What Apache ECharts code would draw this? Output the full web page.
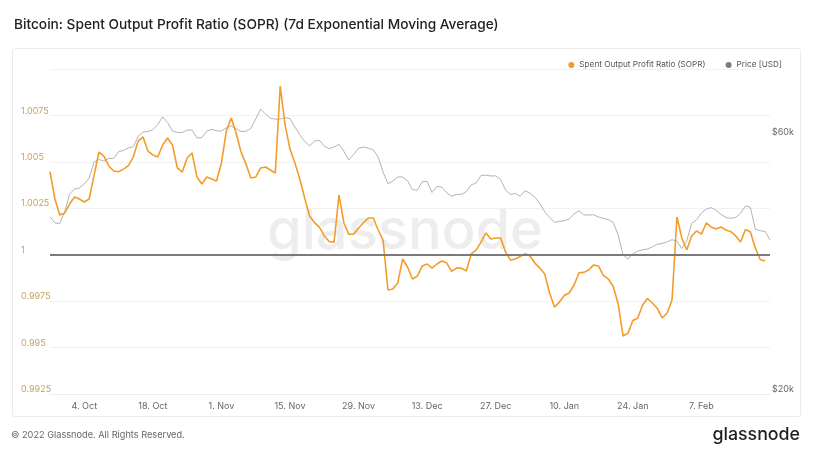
<!DOCTYPE html>
<html>
<head>
<meta charset="utf-8">
<script src="https://cdn.jsdelivr.net/npm/echarts@6/dist/echarts.min.js"></script>
<style>
html,body{margin:0;padding:0;background:#fff;}
#chart{width:815px;height:454px;}
</style>
</head>
<body>
<div id="chart"></div>
<script>
// ---- data ----
const startDate = '2021-09-27';
const dayCount = 148;
const tickDates = ['2021-10-04','2021-10-18','2021-11-01','2021-11-15','2021-11-29','2021-12-13','2021-12-27','2022-01-10','2022-01-24','2022-02-07'];
const tickLabels = ['4. Oct','18. Oct','1. Nov','15. Nov','29. Nov','13. Dec','27. Dec','10. Jan','24. Jan','7. Feb'];
const soprTicks = [0.9925, 0.995, 0.9975, 1, 1.0025, 1.005, 1.0075, 1.01];
const priceTicks = [20000, 60000];

const sopr = [
1.00447,1.00300,1.00214,1.00225,1.00273,1.00311,1.00300,1.00284,1.00300,1.00429,
1.00553,1.00531,1.00478,1.00451,1.00447,1.00461,1.00480,1.00526,1.00612,1.00634,
1.00558,1.00537,1.00526,1.00591,1.00628,1.00591,1.00467,1.00445,1.00521,1.00548,
1.00418,1.00381,1.00418,1.00408,1.00397,1.00494,1.00666,1.00736,1.00655,1.00553,
1.00488,1.00413,1.00418,1.00467,1.00472,1.00456,1.00440,1.00908,1.00698,1.00569,
1.00494,1.00408,1.00305,1.00208,1.00173,1.00149,1.00101,1.00071,1.00067,1.00321,
1.00171,1.00111,1.00110,1.00144,1.00172,1.00198,1.00198,1.00133,1.00079,0.99810,
0.99815,0.99848,0.99977,0.99934,0.99869,0.99885,0.99939,0.99950,0.99928,0.99950,
0.99966,0.99955,0.99910,0.99928,0.99928,0.99912,1.00004,1.00025,1.00068,1.00117,
1.00085,1.00090,1.00090,1.00015,0.99971,0.99977,0.99990,1.00006,0.99993,0.99955,
0.99928,0.99896,0.99794,0.99718,0.99745,0.99780,0.99794,0.99837,0.99903,0.99905,
0.99918,0.99945,0.99939,0.99888,0.99869,0.99829,0.99735,0.99562,0.99578,0.99646,
0.99659,0.99729,0.99764,0.99740,0.99710,0.99659,0.99686,0.99756,1.00203,1.00090,
1.00025,1.00101,1.00128,1.00111,1.00171,1.00149,1.00138,1.00149,1.00133,1.00124,
1.00101,1.00068,1.00136,1.00122,1.00036,0.99974,0.99966,null
];

const price = [
42600,41480,41390,43470,46940,47950,48150,48990,50250,53800,
54380,54030,54610,54650,56270,56510,57110,57410,59990,61150,
61280,61750,63140,65240,63680,61410,61020,61020,61670,61670,
59600,59730,61360,61880,61460,61410,62260,62740,61990,61280,
61300,62100,64630,67390,66030,64850,64580,64630,65020,64720,
62470,60450,58750,57600,58850,59020,57550,56920,57380,58000,
56310,54260,55550,57040,57360,57070,56680,54960,51550,49030,
49620,50470,50470,49660,47810,47690,49490,49530,47240,48510,
48300,47160,46500,46880,46860,47420,48800,49190,50810,50850,
50690,50710,49950,47750,46860,47040,46500,47590,47100,46320,
45070,43510,42510,41580,41760,41890,42170,43140,43710,42920,
42930,42970,42550,42300,42080,41550,39410,36230,35540,36370,
36790,37000,37120,37470,37890,38020,38270,38640,38360,37190,
38410,41420,42050,43290,44030,44290,43790,43010,42460,42320,
42480,43230,44640,44350,40360,40140,40000,38580
];

// ---- categories (daily dates) ----
const dates = [];
{
  const t0 = Date.parse(startDate + 'T00:00:00Z');
  for (let i = 0; i < dayCount; i++) {
    dates.push(new Date(t0 + i * 86400000).toISOString().slice(0, 10));
  }
}

const chart = echarts.init(document.getElementById('chart'), null, {renderer: 'canvas'});
const FONT = 'Inter, "Noto Sans", sans-serif';

chart.setOption({
  backgroundColor: '#ffffff',
  animation: false,
  textStyle: {fontFamily: FONT},
  title: {
    text: 'Bitcoin: Spent Output Profit Ratio (SOPR) (7d Exponential Moving Average)',
    left: 9, top: 13,
    textStyle: {fontFamily: FONT, fontSize: 13.7, fontWeight: 500, color: '#222'}
  },
  legend: {
    right: 28, top: 56,
    icon: 'circle', itemWidth: 6, itemHeight: 6, itemGap: 20,
    textStyle: {fontFamily: FONT, fontSize: 8.2, color: '#555'},
    data: ['Spent Output Profit Ratio (SOPR)', 'Price [USD]']
  },
  graphic: [
    {type: 'rect', left: 12, top: 48, z: -10, silent: true,
     shape: {width: 788, height: 368, r: 2},
     style: {fill: '#fff', stroke: '#ececec', lineWidth: 1}},
    {type: 'text', x: 405, y: 232, z: -5, silent: true,
     style: {text: 'glassnode', fill: '#ededed', font: '500 56px Inter, "Noto Sans", sans-serif',
             align: 'center', verticalAlign: 'middle'}},
    {type: 'text', left: 11, top: 431, silent: true,
     style: {text: '\u00a9 2022 Glassnode. All Rights Reserved.', fill: '#666',
             font: '9.2px Inter, "Noto Sans", sans-serif'}},
    {type: 'text', right: 15, top: 426, silent: true,
     style: {text: 'glassnode', fill: '#1f1f1f',
             font: '500 17.8px Inter, "Noto Sans", sans-serif'}}
  ],
  grid: {left: 50, right: 45, top: 69, bottom: 60, containLabel: false},
  xAxis: {
    type: 'category',
    data: dates,
    boundaryGap: false,
    axisLine: {show: true, lineStyle: {color: '#ececec'}},
    axisTick: {show: false},
    splitLine: {show: false},
    axisLabel: {
      interval: function (idx, val) { return tickDates.indexOf(val) >= 0; },
      formatter: function (val) { const i = tickDates.indexOf(val); return i >= 0 ? tickLabels[i] : ''; },
      color: '#666', fontSize: 9, margin: 8, fontFamily: FONT
    }
  },
  yAxis: [
    {
      type: 'value', position: 'left',
      min: soprTicks[0], max: soprTicks[soprTicks.length - 1], interval: 0.0025,
      axisLine: {show: false}, axisTick: {show: false},
      splitLine: {show: true, lineStyle: {color: '#f1f1f1', width: 1}},
      axisLabel: {
        showMaxLabel: false,
        color: '#c9a060', fontSize: 9, fontFamily: FONT,
        align: 'left', margin: 29, verticalAlign: 'bottom',
        formatter: function (v) { return String(parseFloat(v.toFixed(4))); }
      }
    },
    {
      type: 'log', position: 'right', logBase: 10,
      min: 20000, max: 80000,
      axisLine: {show: false}, axisTick: {show: false},
      splitLine: {show: false},
      axisLabel: {
        customValues: priceTicks,
        color: '#666', fontSize: 9, fontFamily: FONT,
        align: 'left', margin: 2, verticalAlign: 'bottom',
        formatter: function (v) { return '$' + Math.round(v / 1000) + 'k'; }
      }
    }
  ],
  series: [
    {
      name: 'Price [USD]', type: 'line', yAxisIndex: 1,
      data: price, showSymbol: false, symbol: 'circle',
      itemStyle: {color: '#7d7d7d'},
      lineStyle: {color: '#b4b4b4', width: 1},
      z: 2
    },
    {
      name: 'Spent Output Profit Ratio (SOPR)', type: 'line', yAxisIndex: 0,
      data: sopr, showSymbol: false, symbol: 'circle',
      itemStyle: {color: '#f39c2a'},
      lineStyle: {color: '#f39c2a', width: 1.6},
      z: 3,
      markLine: {
        silent: true, symbol: ['none', 'none'], label: {show: false},
        lineStyle: {color: '#7a7a7a', width: 2, type: 'solid'},
        data: [{yAxis: 1}]
      }
    }
  ]
});
</script>
</body>
</html>
